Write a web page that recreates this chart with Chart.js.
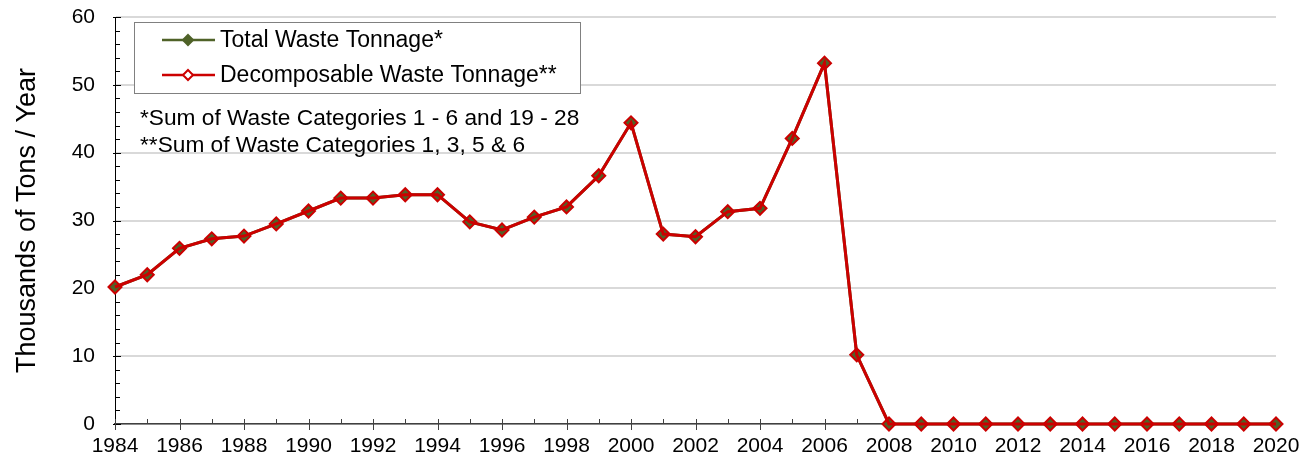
<!DOCTYPE html>
<html><head><meta charset="utf-8">
<script src="https://cdn.jsdelivr.net/npm/chart.js@4/dist/chart.umd.min.js"></script>
<style>html,body{margin:0;padding:0;background:#fff}#wrap{width:1304px;height:466px;position:relative}</style>
</head><body><div id="wrap"><canvas id="c" width="1304" height="466"></canvas></div>
<script>
const years = [1984,1985,1986,1987,1988,1989,1990,1991,1992,1993,1994,1995,1996,1997,1998,1999,2000,2001,2002,2003,2004,2005,2006,2007,2008,2009,2010,2011,2012,2013,2014,2015,2016,2017,2018,2019,2020];
const totalWaste = [20.2,22.0,25.9,27.3,27.7,29.5,31.4,33.3,33.3,33.8,33.8,29.8,28.6,30.5,32.0,36.6,44.4,28.0,27.6,31.3,31.8,42.1,53.2,10.2,0,0,0,0,0,0,0,0,0,0,0,0,0];
const decomposableWaste = [20.2,22.0,25.9,27.3,27.7,29.5,31.4,33.3,33.3,33.8,33.8,29.8,28.6,30.5,32.0,36.6,44.4,28.0,27.6,31.3,31.8,42.1,53.2,10.2,0,0,0,0,0,0,0,0,0,0,0,0,0];
const seriesNames = ['Total Waste Tonnage*','Decomposable Waste Tonnage**'];
const notes = ['*Sum of Waste Categories 1 - 6 and 19 - 28','**Sum of Waste Categories 1, 3, 5 & 6'];
const yAxisTitle = 'Thousands of Tons / Year';
const yMin = 0, yMax = 60, yStep = 10, yMinorStep = 2;
const xMin = 1984, xMax = 2020, xLabelStep = 2;

const FONT = 'Liberation Sans, Arial, sans-serif';
const GREEN = '#4f6228';
const RED = '#cc0000';

function diamond(ctx, x, y, r, fill, stroke, lw) {
  ctx.beginPath();
  ctx.moveTo(x, y - r); ctx.lineTo(x + r, y); ctx.lineTo(x, y + r); ctx.lineTo(x - r, y); ctx.closePath();
  if (fill) { ctx.fillStyle = fill; ctx.fill(); }
  if (stroke) { ctx.strokeStyle = stroke; ctx.lineWidth = lw; ctx.stroke(); }
}

const tickPlugin = {
  id: 'ticks',
  beforeDatasetsDraw(chart) {
    const ctx = chart.ctx, xs = chart.scales.x, ys = chart.scales.y;
    const ca = chart.chartArea;
    ctx.save();
    ctx.lineWidth = 1;
    ctx.strokeStyle = '#000';
    for (let v = yMin; v <= yMax; v += yMinorStep) {
      const py = Math.round(ys.getPixelForValue(v)) + 0.5;
      const major = v % yStep === 0;
      ctx.beginPath();
      ctx.moveTo(ca.left - (major ? 2 : 0), py);
      ctx.lineTo(ca.left + (major ? 6 : 5), py);
      ctx.stroke();
    }
    ctx.strokeStyle = '#404040';
    for (let yr = xMin; yr <= xMax; yr++) {
      const px = Math.round(xs.getPixelForValue(yr)) + 0.5;
      const major = (yr - xMin) % xLabelStep === 0;
      ctx.beginPath();
      ctx.moveTo(px, ca.bottom - 5);
      ctx.lineTo(px, ca.bottom + (major ? 6 : 0));
      ctx.stroke();
    }
    ctx.restore();
  }
};

const legendPlugin = {
  id: 'customLegend',
  afterDraw(chart) {
    const ctx = chart.ctx;
    ctx.save();
    ctx.fillStyle = '#fff';
    ctx.fillRect(134, 22, 447, 72);
    ctx.strokeStyle = '#808080';
    ctx.lineWidth = 1;
    ctx.strokeRect(134.5, 22.5, 446, 71);
    const rows = [
      {y: 40, color: GREEN, fill: GREEN, text: seriesNames[0]},
      {y: 75, color: RED, fill: '#fff', text: seriesNames[1]}
    ];
    rows.forEach(r => {
      ctx.strokeStyle = r.color; ctx.lineWidth = 2.5;
      ctx.beginPath(); ctx.moveTo(162, r.y); ctx.lineTo(215, r.y); ctx.stroke();
      diamond(ctx, 188, r.y, 5, r.fill, r.color, 2);
      ctx.fillStyle = '#000';
      ctx.font = '23px ' + FONT;
      ctx.textBaseline = 'middle';
      ctx.textAlign = 'left';
      ctx.fillText(r.text, 220, r.y + 1);
    });
    ctx.font = '22.7px ' + FONT;
    ctx.fillText(notes[0], 140, 119);
    ctx.fillText(notes[1], 140, 146);
    ctx.restore();
  }
};

new Chart(document.getElementById('c'), {
  type: 'line',
  data: {
    datasets: [
      {
        label: seriesNames[0],
        data: years.map((y, i) => ({x: y, y: totalWaste[i]})),
        borderColor: GREEN, borderWidth: 3,
        pointStyle: 'rectRot', pointRadius: 6.5, pointBackgroundColor: GREEN, pointBorderColor: GREEN, pointBorderWidth: 1,
        order: 1, tension: 0
      },
      {
        label: seriesNames[1],
        data: years.map((y, i) => ({x: y, y: decomposableWaste[i]})),
        borderColor: RED, borderWidth: 3,
        pointStyle: 'rectRot', pointRadius: 6.5, pointBackgroundColor: 'rgba(0,0,0,0)', pointBorderColor: RED, pointBorderWidth: 2,
        order: 0, tension: 0
      }
    ]
  },
  options: {
    responsive: false,
    animation: false,
    devicePixelRatio: 1,
    clip: false,
    layout: {padding: {top: 17, right: 28, left: 0, bottom: 0}},
    plugins: {legend: {display: false}, tooltip: {enabled: false}},
    scales: {
      x: {
        type: 'linear', min: xMin, max: xMax,
        ticks: {stepSize: xLabelStep, color: '#000', font: {family: FONT, size: 21}, padding: 10, maxRotation: 0, autoSkip: false,
          callback: v => String(v)},
        grid: {display: false, drawTicks: false},
        border: {display: true, color: '#404040', width: 1.5},
        afterFit: s => { s.height = 42; s.paddingLeft = 0; s.paddingRight = 0; }
      },
      y: {
        min: yMin, max: yMax,
        ticks: {stepSize: yStep, color: '#000', font: {family: FONT, size: 21}, padding: 20},
        grid: {color: '#d9d9d9', lineWidth: 2, drawTicks: false},
        border: {display: true, color: '#000', width: 1},
        title: {display: true, text: yAxisTitle, color: '#000', font: {family: FONT, size: 27}, padding: {top: 11, bottom: 0}},
        afterFit: s => { s.width = 115; s.paddingTop = 0; s.paddingBottom = 0; }
      }
    }
  },
  plugins: [tickPlugin, legendPlugin]
});
</script>
</body></html>
